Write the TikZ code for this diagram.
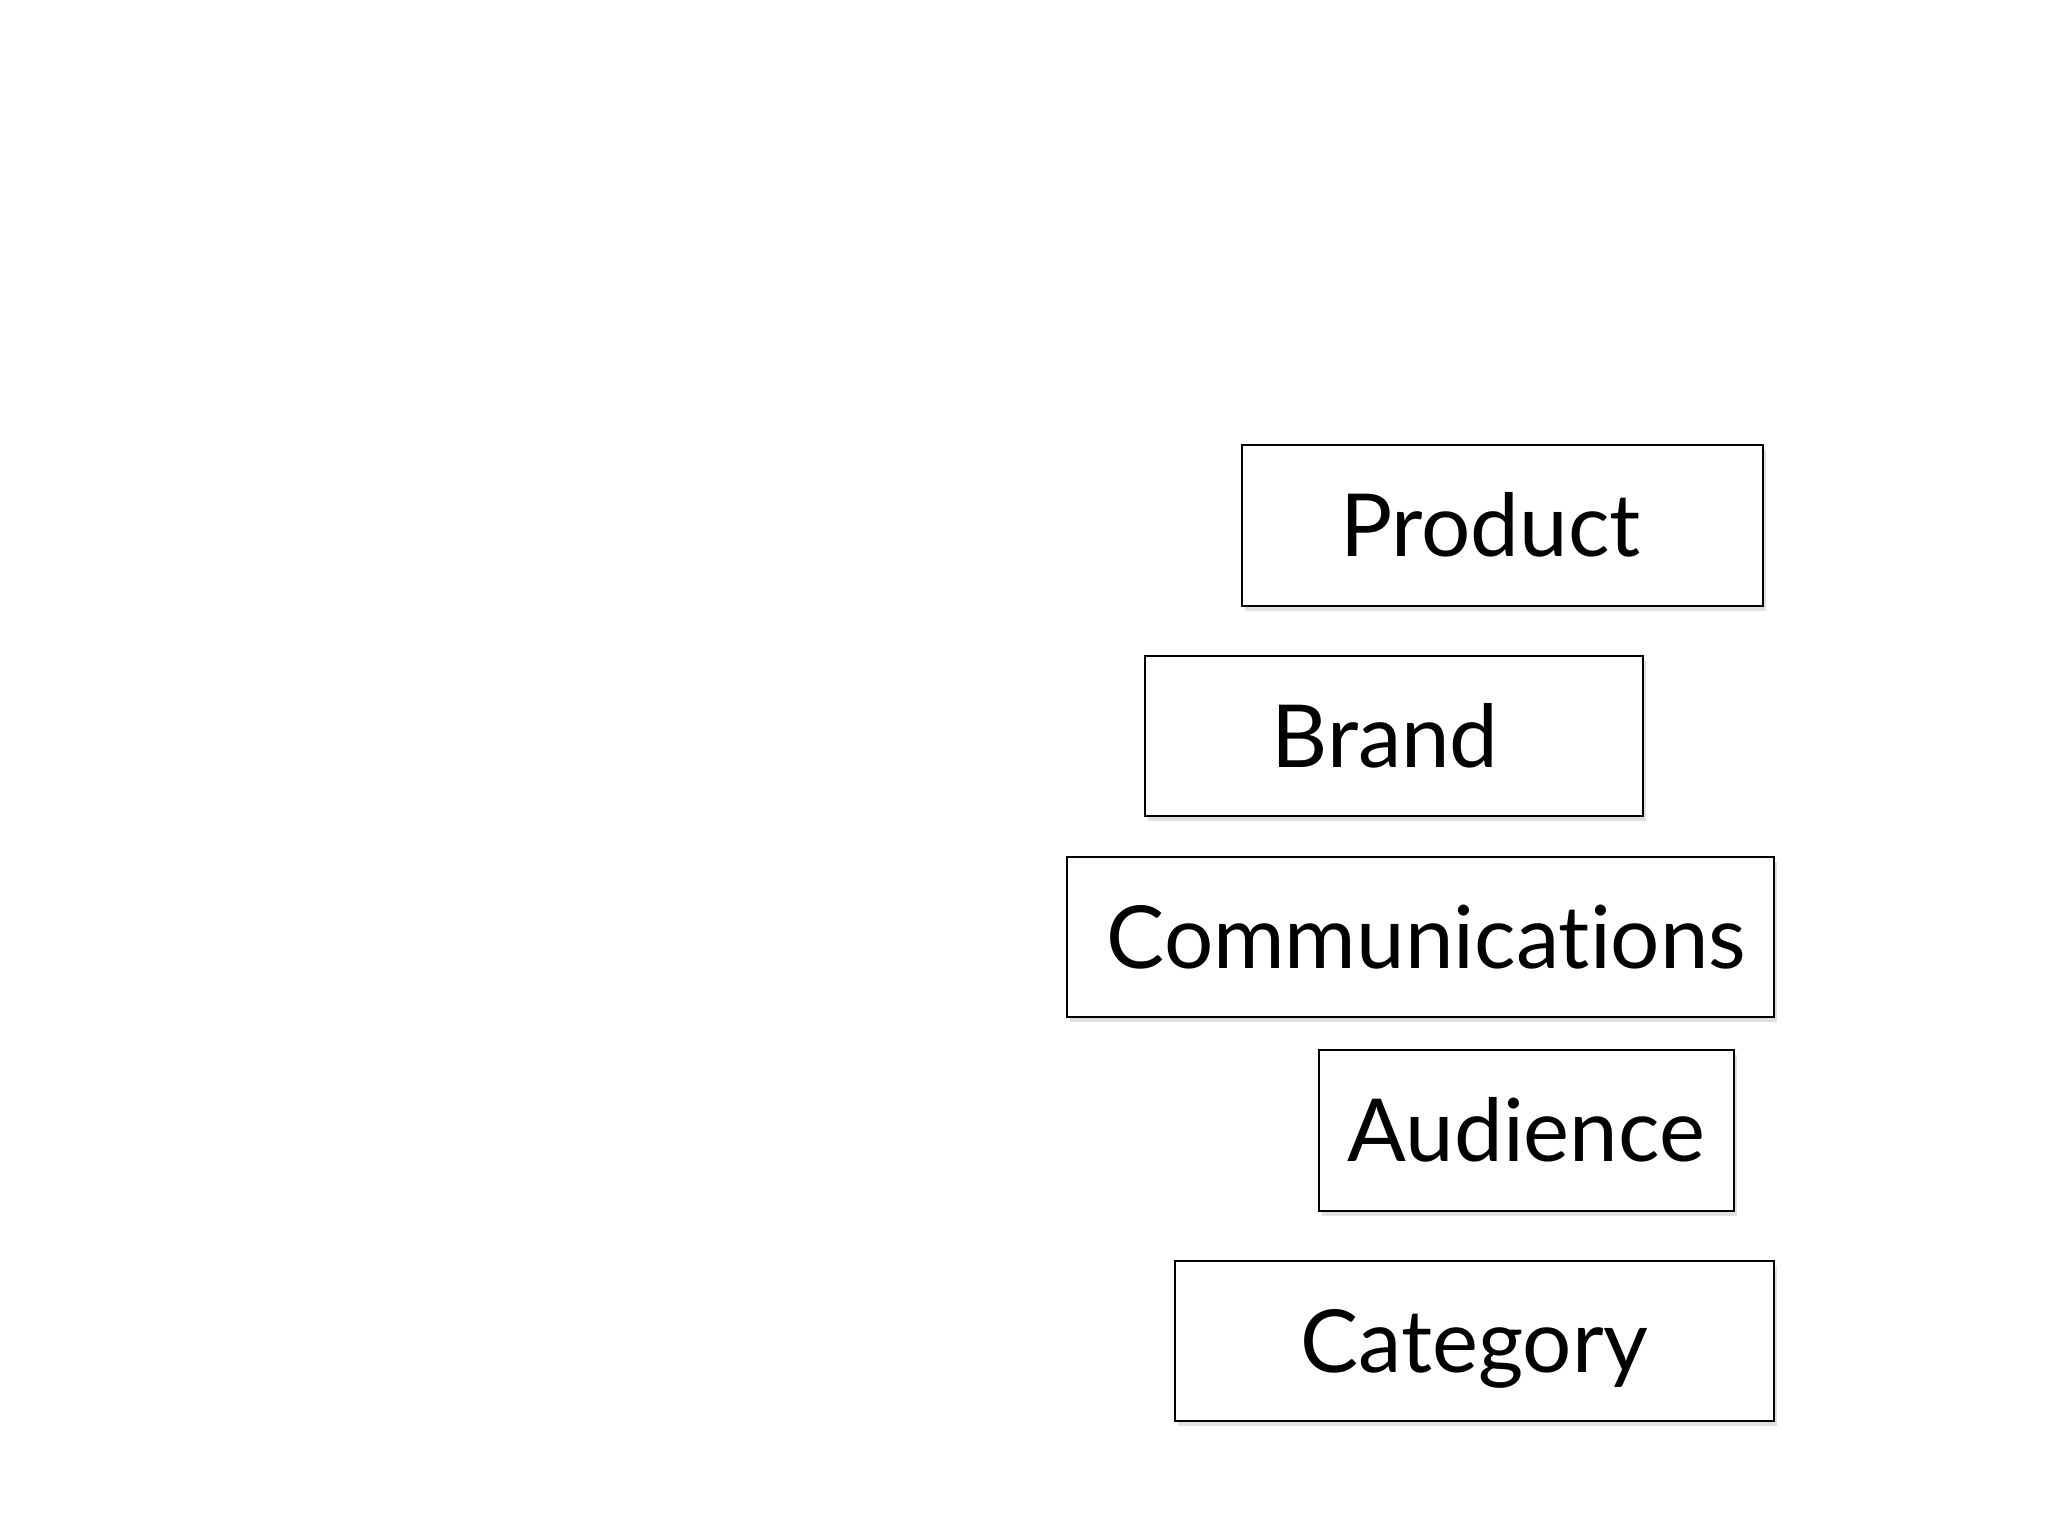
\documentclass[tikz,border=0pt]{standalone}
\usepackage{fontspec}
\setmainfont{Lato}[Ligatures=NoCommon]
\usetikzlibrary{shadows}
\tikzset{
  boxnode/.style={draw=black, line width=1pt, fill=white, rectangle,
    inner sep=0pt, text height=31pt, text depth=0pt,
    font=\fontsize{43.5}{50}\selectfont,
    drop shadow={shadow xshift=1.5pt, shadow yshift=-2.5pt, opacity=0.12, fill=black}}
}
\begin{document}
\begin{tikzpicture}[x=0.5pt,y=-0.5pt]
\useasboundingbox[fill=white] (0,0) rectangle (2048,1536);
\node[boxnode, minimum width=260.5pt, minimum height=80.5pt] (product) at (1502.5,525.5) {Product\kern12pt};
\node[boxnode, minimum width=249pt, minimum height=80pt] (brand) at (1394,736) {Brand\kern9pt};
\node[boxnode, minimum width=353.5pt, minimum height=80pt] (comm) at (1420.5,937) {\kern6pt Communications};
\node[boxnode, minimum width=207.5pt, minimum height=80.5pt] (audience) at (1526.5,1130.5) {Audience};
\node[boxnode, minimum width=299.5pt, minimum height=80pt] (category) at (1474.5,1341) {Category};
\end{tikzpicture}
\end{document}
